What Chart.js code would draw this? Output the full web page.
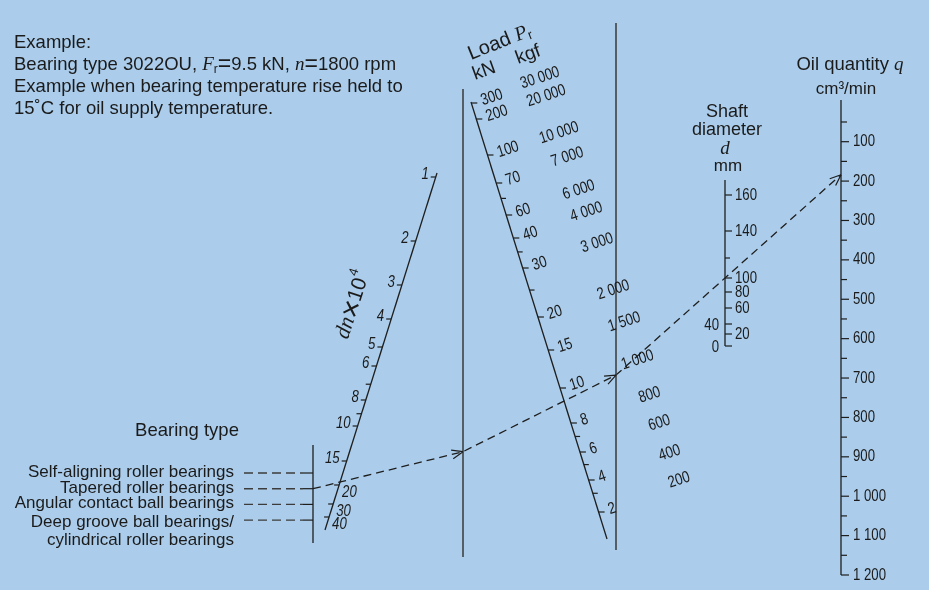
<!DOCTYPE html>
<html lang="en">
<head>
<meta charset="utf-8">
<title>Oil quantity nomogram</title>
<script src="https://cdn.jsdelivr.net/npm/chart.js@4.4.1/dist/chart.umd.min.js"></script>
<style>
  html, body { margin: 0; padding: 0; background: #abcdeb; }
  #contenedor { width: 929px; height: 590px; }
</style>
</head>
<body>
<div id="contenedor"><canvas id="nomograma" width="929" height="590"></canvas></div>
<script>
// Datos del nomograma
const bearingTypes = [
    ['Self-aligning roller bearings'],
    ['Tapered roller bearings'],
    ['Angular contact ball bearings'],
    ['Deep groove ball bearings/', 'cylindrical roller bearings']
];
const dnTicks = [1, 2, 3, 4, 5, 6, 8, 10, 15, 20, 30, 40];
const dnMinorTicks = [7, 9];
const loadKNTicks = [300, 200, 100, 70, 60, 40, 30, 20, 15, 10, 8, 6, 4, 2];
const loadKNMinorTicks = [65, 35, 25, 7, 5, 3];
const loadKgfLabels = [30000, 20000, 10000, 7000, 6000, 4000, 3000, 2000, 1500, 1000, 800, 600, 400, 200];
const shaftTicks = [160, 140, 100, 80, 60, 40, 20, 0];
const shaftMinorTicks = [120];
const shaftLeftLabels = [40, 0];
const oilTicks = [100, 200, 300, 400, 500, 600, 700, 800, 900, 1000, 1100, 1200];
const oilMinorTicks = [50, 150, 250, 350, 450, 550, 650, 750, 850, 950, 1050, 1150];

// Lectura del ejemplo (línea discontinua)
const exampleBearing = 1;      // Tapered roller bearings
const exampleDn = 19.3;
const exampleLoad = 9.2;
const exampleShaft = 100;

// Geometría de las escalas (unidades del gráfico = 929 x 590)
const geo = {
    bearing: { x: 313, top: 445, bottom: 543, first: 473, step: 15.7 },
    dn: { a: [437, 173], b: [325, 530], log: true,
          knots: [[1, 177], [2, 241], [3, 285], [4, 319], [5, 347], [6, 366], [8, 400],
                  [10, 426], [15, 461], [20, 485], [30, 504], [40, 517]] },
    ref1: { x: 463, top: 89, bottom: 557 },
    load: { a: [471, 102], b: [607, 539], log: true,
            knots: [[300, 103], [200, 119], [100, 155], [70, 183], [60, 215], [40, 238], [30, 268],
                    [20, 317], [15, 350], [10, 388], [8, 423], [6, 452], [4, 480], [2, 512]] },
    kgf: { a: [540, 78], b: [679, 480], log: true,
           knots: [[30000, 78], [20000, 96], [10000, 133], [7000, 157], [6000, 190], [4000, 212],
                   [3000, 243], [2000, 290], [1500, 322], [1000, 360], [800, 395], [600, 423],
                   [400, 453], [200, 480]] },
    ref2: { x: 616, top: 23, bottom: 550 },
    shaft: { a: [725, 180], b: [725, 346], log: false,
             knots: [[160, 195], [140, 231], [120, 258], [100, 278], [80, 292], [60, 308],
                     [40, 324], [20, 334], [0, 346]] },
    oil: { a: [841, 100], b: [841, 575], log: false, knots: [[0, 102.3], [1200, 575]] }
};

const SANS = '"Liberation Sans", Arial, Helvetica, sans-serif';
const SERIF = '"Liberation Serif", "DejaVu Serif", serif';
const NUM = '16.5px ' + SANS;
const NUM_I = 'italic 16.5px ' + SANS;
const NUM_SX = 0.8;
const TINTA = '#1b1b1b';

// Interpolación entre puntos de calibración
function interpolar(knots, v, log) {
    const f = log ? Math.log : (a) => a;
    let i = 0;
    for (i = 0; i < knots.length - 2; i++) {
        if ((v - knots[i][0]) * (v - knots[i + 1][0]) <= 0) break;
    }
    const [v0, y0] = knots[i];
    const [v1, y1] = knots[i + 1];
    const t = (f(v) - f(v0)) / (f(v1) - f(v0));
    return y0 + t * (y1 - y0);
}

function puntoEnEscala(esc, v) {
    const y = interpolar(esc.knots, v, esc.log);
    const [xa, ya] = esc.a;
    const [xb, yb] = esc.b;
    return { x: xa + (y - ya) * (xb - xa) / (yb - ya), y: y };
}

function puntoTipo(i) {
    return { x: geo.bearing.x, y: geo.bearing.first + i * geo.bearing.step };
}

function prolongar(p, q, xDestino) {
    const t = (xDestino - p.x) / (q.x - p.x);
    return { x: xDestino, y: p.y + t * (q.y - p.y) };
}

function formato(v) {
    if (v < 1000) return String(v);
    return Math.floor(v / 1000) + ' ' + String(v % 1000).padStart(3, '0');
}

// Recorrido del ejemplo
const p0 = puntoTipo(exampleBearing);
const p1 = prolongar(p0, puntoEnEscala(geo.dn, exampleDn), geo.ref1.x);
const p2 = prolongar(p1, puntoEnEscala(geo.load, exampleLoad), geo.ref2.x);
const p3 = prolongar(p2, puntoEnEscala(geo.shaft, exampleShaft), geo.oil.a[0]);

function linea(puntos, color, ancho, dash) {
    return {
        data: puntos,
        showLine: true,
        borderColor: color,
        borderWidth: ancho,
        borderDash: dash || [],
        pointRadius: 0,
        fill: false
    };
}

function escribir(ctx, str, x, y, o) {
    ctx.save();
    ctx.translate(x, y);
    if (o.rot) ctx.rotate(o.rot * Math.PI / 180);
    if (o.sx) ctx.scale(o.sx, 1);
    ctx.font = o.font;
    ctx.textAlign = o.align || 'left';
    ctx.textBaseline = o.baseline || 'middle';
    ctx.fillStyle = TINTA;
    ctx.fillText(str, 0, 0);
    ctx.restore();
}

function escribirRico(ctx, partes, x, y, o) {
    ctx.save();
    ctx.translate(x, y);
    if (o.rot) ctx.rotate(o.rot * Math.PI / 180);
    ctx.textBaseline = o.baseline || 'alphabetic';
    ctx.textAlign = 'left';
    ctx.fillStyle = TINTA;
    let total = 0;
    partes.forEach(p => { ctx.font = p.font; total += ctx.measureText(p.t).width; });
    let cx = o.align === 'center' ? -total / 2 : (o.align === 'right' ? -total : 0);
    partes.forEach(p => {
        ctx.font = p.font;
        ctx.fillText(p.t, cx, p.dy || 0);
        cx += ctx.measureText(p.t).width;
    });
    ctx.restore();
}

const fondo = {
    id: 'fondo',
    beforeDraw(chart) {
        const c = chart.ctx;
        c.save();
        c.fillStyle = '#abcdeb';
        c.fillRect(0, 0, chart.width, chart.height);
        c.restore();
    }
};

const nomograma = {
    id: 'nomograma',
    afterDatasetsDraw(chart) {
        const c = chart.ctx;
        const sx = chart.scales.x, sy = chart.scales.y;
        const X = (v) => sx.getPixelForValue(v);
        const Y = (v) => sy.getPixelForValue(v);

        function seg(x1, y1, x2, y2, color, ancho, dash) {
            c.save();
            c.strokeStyle = color || '#1e1e1e';
            c.lineWidth = ancho || 1.2;
            c.setLineDash(dash || []);
            c.beginPath();
            c.moveTo(X(x1), Y(y1));
            c.lineTo(X(x2), Y(y2));
            c.stroke();
            c.restore();
        }

        function flecha(desde, hasta) {
            const ang = Math.atan2(Y(hasta.y) - Y(desde.y), X(hasta.x) - X(desde.x));
            c.save();
            c.strokeStyle = '#1e1e1e';
            c.lineWidth = 1.2;
            c.beginPath();
            [-0.38, 0.38].forEach(d => {
                c.moveTo(X(hasta.x), Y(hasta.y));
                c.lineTo(X(hasta.x) - 12 * Math.cos(ang + d), Y(hasta.y) - 12 * Math.sin(ang + d));
            });
            c.stroke();
            c.restore();
        }

        // Texto del ejemplo
        const FT = '18.5px ' + SANS;
        const EQ = '23px ' + SANS;
        const F18 = '18px ' + SANS;
        escribirRico(c, [{ t: 'Example:', font: FT }], 14, 48, {});
        escribirRico(c, [
            { t: 'Bearing type 3022OU, ', font: FT },
            { t: 'F', font: 'italic 19px ' + SERIF },
            { t: 'r', font: '12px ' + SANS, dy: 3 },
            { t: '=', font: EQ, dy: 1 },
            { t: '9.5 kN, ', font: FT },
            { t: 'n', font: 'italic 19px ' + SERIF },
            { t: '=', font: EQ, dy: 1 },
            { t: '1800 rpm', font: FT }
        ], 14, 70, {});
        escribirRico(c, [{ t: 'Example when bearing temperature rise held to', font: FT }], 14, 92, {});
        escribirRico(c, [{ t: '15˚C for oil supply temperature.', font: FT }], 14, 114, {});

        // Tipo de rodamiento
        escribir(c, 'Bearing type', X(187), Y(436), { font: '18.5px ' + SANS, align: 'center', baseline: 'alphabetic' });
        bearingTypes.forEach((lineas, i) => {
            const p = puntoTipo(i);
            seg(244, p.y, 303, p.y, '#3c3c3c', 1.4, [9, 5]);
            seg(303, p.y, p.x, p.y);
            const y0 = lineas.length > 1 ? p.y + 7 : p.y + 4;
            lineas.forEach((t, k) => {
                escribir(c, t, X(234), Y(y0 + k * 18), { font: '17px ' + SANS, align: 'right', baseline: 'alphabetic' });
            });
        });

        // Escala dn
        dnTicks.concat(dnMinorTicks).forEach(v => {
            const p = puntoEnEscala(geo.dn, v);
            seg(p.x - 5, p.y, p.x, p.y);
            if (dnMinorTicks.includes(v)) return;
            if (v >= 20) {
                escribir(c, String(v), X(p.x + 3), Y(p.y + 7), { font: NUM_I, sx: NUM_SX });
            } else {
                escribir(c, String(v), X(p.x - 7), Y(p.y - 3), { font: NUM_I, sx: NUM_SX, align: 'right' });
            }
        });
        escribirRico(c, [
            { t: 'dn', font: 'italic 22px ' + SERIF },
            { t: '×', font: '30px ' + SANS, dy: 1 },
            { t: '10', font: '21px ' + SANS },
            { t: '4', font: '13px ' + SANS, dy: -9 }
        ], X(353), Y(305), { align: 'center', baseline: 'middle', rot: -72 });

        // Escala de carga kN
        loadKNTicks.concat(loadKNMinorTicks).forEach(v => {
            const p = puntoEnEscala(geo.load, v);
            const menor = loadKNMinorTicks.includes(v);
            seg(p.x, p.y, p.x + (menor ? 5 : 6), p.y);
            if (!menor) {
                escribir(c, String(v), X(p.x + 10), Y(p.y - 2), { font: NUM, sx: NUM_SX, rot: -18 });
            }
        });
        loadKgfLabels.forEach(v => {
            const p = puntoEnEscala(geo.kgf, v);
            escribir(c, formato(v), X(p.x), Y(p.y), { font: NUM, sx: NUM_SX, rot: -18, align: 'center' });
        });
        escribirRico(c, [
            { t: 'Load ', font: '20px ' + SANS },
            { t: 'P', font: 'italic 20px ' + SERIF },
            { t: 'r', font: '13px ' + SANS, dy: 3 }
        ], X(471), Y(60), { rot: -22 });
        escribir(c, 'kN', X(475), Y(80), { font: '19px ' + SANS, rot: -20, baseline: 'alphabetic' });
        escribir(c, 'kgf', X(518), Y(64), { font: '19px ' + SANS, rot: -20, baseline: 'alphabetic' });

        // Diámetro del eje
        shaftTicks.concat(shaftMinorTicks).forEach(v => {
            const p = puntoEnEscala(geo.shaft, v);
            const menor = shaftMinorTicks.includes(v);
            seg(p.x, p.y, p.x + (menor ? 5 : 7), p.y);
            if (menor) return;
            if (shaftLeftLabels.includes(v)) {
                escribir(c, String(v), X(p.x - 6), Y(p.y + 1), { font: NUM, sx: NUM_SX, align: 'right' });
            } else {
                escribir(c, String(v), X(p.x + 10), Y(p.y), { font: NUM, sx: NUM_SX });
            }
        });
        escribir(c, 'Shaft', X(727), Y(117), { font: F18, align: 'center', baseline: 'alphabetic' });
        escribir(c, 'diameter', X(727), Y(135), { font: F18, align: 'center', baseline: 'alphabetic' });
        escribir(c, 'd', X(725), Y(154), { font: 'italic 19px ' + SERIF, align: 'center', baseline: 'alphabetic' });
        escribir(c, 'mm', X(728), Y(171), { font: '17px ' + SANS, align: 'center', baseline: 'alphabetic' });

        // Cantidad de aceite
        oilTicks.concat(oilMinorTicks).forEach(v => {
            const p = puntoEnEscala(geo.oil, v);
            const menor = oilMinorTicks.includes(v);
            seg(p.x, p.y, p.x + (menor ? 6 : 8), p.y);
            if (!menor) {
                escribir(c, formato(v), X(p.x + 12), Y(p.y), { font: NUM, sx: NUM_SX });
            }
        });
        escribirRico(c, [
            { t: 'Oil quantity ', font: '18.5px ' + SANS },
            { t: 'q', font: 'italic 19px ' + SERIF }
        ], X(850), Y(70), { align: 'center' });
        escribir(c, 'cm³/min', X(846), Y(94), { font: '17px ' + SANS, align: 'center', baseline: 'alphabetic' });

        // Flechas del recorrido
        flecha(p0, p1);
        flecha(p1, p2);
        flecha(p2, p3);
    }
};

// Función para generar el nomograma
function generarNomograma() {
    const ctx = document.getElementById('nomograma').getContext('2d');
    const g = geo;
    const dnA = { x: g.dn.a[0], y: g.dn.a[1] }, dnB = { x: g.dn.b[0], y: g.dn.b[1] };
    const ldA = { x: g.load.a[0], y: g.load.a[1] }, ldB = { x: g.load.b[0], y: g.load.b[1] };

    const data = {
        datasets: [
            linea([{ x: g.bearing.x, y: g.bearing.top }, { x: g.bearing.x, y: g.bearing.bottom }], '#1e1e1e', 1.3),
            linea([dnA, dnB], '#1e1e1e', 1.3),
            linea([{ x: g.ref1.x, y: g.ref1.top }, { x: g.ref1.x, y: g.ref1.bottom }], '#3a3a3a', 1.5),
            linea([ldA, ldB], '#1e1e1e', 1.3),
            linea([{ x: g.ref2.x, y: g.ref2.top }, { x: g.ref2.x, y: g.ref2.bottom }], '#3a3a3a', 1.5),
            linea([{ x: g.shaft.a[0], y: g.shaft.a[1] }, { x: g.shaft.b[0], y: g.shaft.b[1] }], '#1e1e1e', 1.3),
            linea([{ x: g.oil.a[0], y: g.oil.a[1] }, { x: g.oil.b[0], y: g.oil.b[1] }], '#1e1e1e', 1.3),
            linea([p0, p1, p2, p3], '#1e1e1e', 1.3, [8, 5])
        ]
    };

    const config = {
        type: 'scatter',
        data: data,
        options: {
            responsive: false,
            animation: false,
            layout: { padding: 0 },
            scales: {
                x: { type: 'linear', min: 0, max: 929, display: false },
                y: { type: 'linear', min: 0, max: 590, reverse: true, display: false }
            },
            plugins: {
                legend: { display: false },
                tooltip: { enabled: false }
            }
        },
        plugins: [fondo, nomograma]
    };

    new Chart(ctx, config);
}

document.addEventListener('DOMContentLoaded', function() {
    if (typeof Chart !== 'undefined') {
        generarNomograma();
    } else {
        console.error('Chart.js no está cargado.');
    }
});
</script>
</body>
</html>
